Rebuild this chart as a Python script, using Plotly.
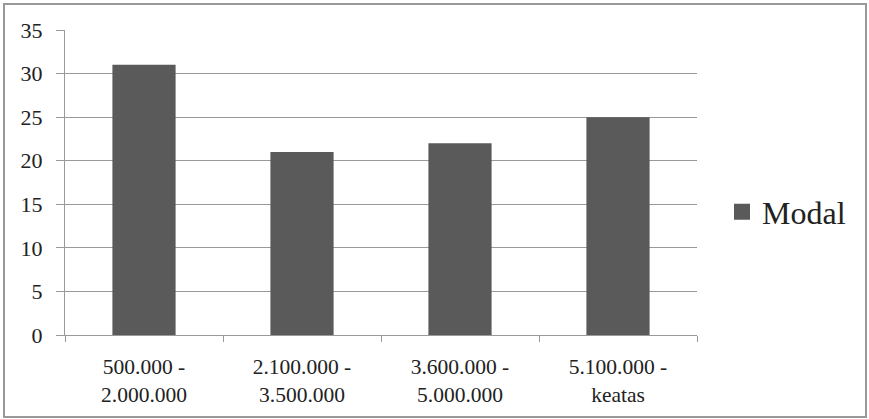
import plotly.graph_objects as go

categories = ["500.000 -<br>2.000.000", "2.100.000 -<br>3.500.000", "3.600.000 -<br>5.000.000", "5.100.000 -<br>keatas"]
values = [31, 21, 22, 25]
series_name = "Modal"

W, H = 869, 419
L, R, T, B = 65, 172, 30, 84
pw, ph = W - L - R, H - T - B

def px_x(x):
    return (x - L) / pw

def px_y(y):
    return (H - B - y) / ph

SERIF = "Liberation Serif"
BAR_COLOR = "#5a5a5a"

fig = go.Figure()
fig.add_trace(go.Bar(x=categories, y=values, name=series_name,
                     marker=dict(color=BAR_COLOR, line=dict(width=0)),
                     width=0.4, showlegend=False))
# legend-only entry with a larger square swatch
fig.add_trace(go.Scatter(x=[None], y=[None], mode="markers", name=series_name,
                         marker=dict(symbol="square", size=16, color=BAR_COLOR,
                                     line=dict(width=0)),
                         showlegend=True))

fig.update_layout(
    width=W, height=H,
    margin=dict(l=L, r=R, t=T, b=B),
    paper_bgcolor="white", plot_bgcolor="white",
    font=dict(family=SERIF, size=22, color="#222222"),
    showlegend=True,
    legend=dict(x=px_x(722), y=px_y(212), xanchor="left", yanchor="middle",
                font=dict(family=SERIF, size=32, color="#222222"), bgcolor="rgba(0,0,0,0)"),
    xaxis=dict(showline=True, linecolor="#999999", linewidth=1,
               ticks="outside", tickson="boundaries", ticklen=6, tickcolor="#999999",
               showgrid=False, tickfont=dict(family=SERIF, size=21.5, color="#222222"),
               ticklabelstandoff=12),
    yaxis=dict(range=[0, 35], dtick=5, showline=True, linecolor="#999999", linewidth=1,
               ticks="outside", ticklen=8, tickcolor="#999999",
               showgrid=True, gridcolor="#999999", gridwidth=1,
               zeroline=False, tickfont=dict(family=SERIF, size=22, color="#222222"),
               ticklabelstandoff=9),
    shapes=[dict(type="rect", xref="paper", yref="paper",
                 x0=px_x(4), x1=px_x(866), y0=px_y(417), y1=px_y(4),
                 line=dict(color="#999999", width=2), layer="below")],
)

fig.write_html("out.html")
